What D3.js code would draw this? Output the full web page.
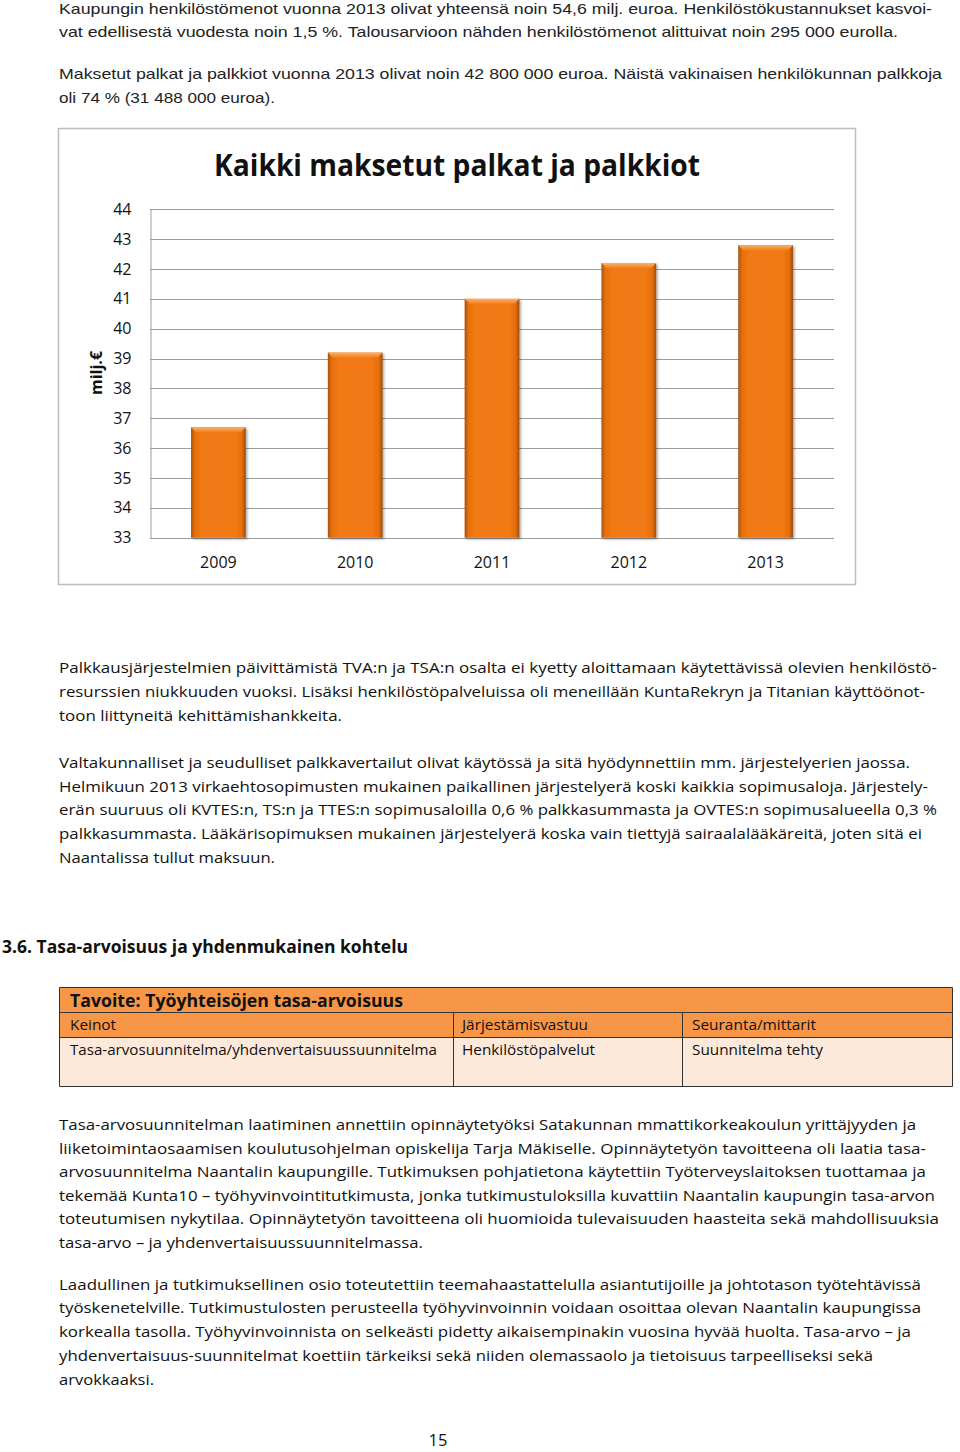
<!DOCTYPE html>
<html><head><meta charset="utf-8">
<script src="https://cdn.jsdelivr.net/npm/d3@7/dist/d3.min.js"></script>
<style>html,body{margin:0;padding:0;background:#fff}svg{display:block}</style>
</head><body>
<script>
// ---- Data ----
const years = ["2009","2010","2011","2012","2013"];
const wages = [36.7, 39.2, 41.0, 42.2, 42.8];   // milj. €
const yTicks = [33,34,35,36,37,38,39,40,41,42,43,44];
const chartTitle = "Kaikki maksetut palkat ja palkkiot";
const yLabel = "milj.€";

const introLines = [
 ["Kaupungin henkilöstömenot vuonna 2013 olivat yhteensä noin 54,6 milj. euroa. Henkilöstökustannukset kasvoi-", 14, 932],
 ["vat edellisestä vuodesta noin 1,5 %. Talousarvioon nähden henkilöstömenot alittuivat noin 295 000 eurolla.", 37, 898],
 ["Maksetut palkat ja palkkiot vuonna 2013 olivat noin 42 800 000 euroa. Näistä vakinaisen henkilökunnan palkkoja", 79, 942],
 ["oli 74 % (31 488 000 euroa).", 103, 275]
];
const bodyLines = [
 ["Palkkausjärjestelmien päivittämistä TVA:n ja TSA:n osalta ei kyetty aloittamaan käytettävissä olevien henkilöstö-", 673, 937],
 ["resurssien niukkuuden vuoksi.  Lisäksi henkilöstöpalveluissa oli meneillään KuntaRekryn ja Titanian käyttöönot-", 697, 925],
 ["toon liittyneitä kehittämishankkeita.", 721, 342],
 ["Valtakunnalliset ja seudulliset palkkavertailut olivat käytössä ja sitä hyödynnettiin mm. järjestelyerien jaossa.", 768, 910],
 ["Helmikuun 2013 virkaehtosopimusten mukainen paikallinen järjestelyerä koski kaikkia sopimusaloja. Järjestely-", 792, 928],
 ["erän suuruus oli KVTES:n, TS:n ja TTES:n sopimusaloilla 0,6 % palkkasummasta ja OVTES:n sopimusalueella 0,3 %", 815, 937],
 ["palkkasummasta. Lääkärisopimuksen mukainen järjestelyerä koska vain tiettyjä sairaalalääkäreitä, joten sitä ei", 839, 922],
 ["Naantalissa tullut maksuun.", 863, 275],
 ["Tasa-arvosuunnitelman laatiminen annettiin opinnäytetyöksi Satakunnan mmattikorkeakoulun yrittäjyyden ja", 1130, 916],
 ["liiketoimintaosaamisen koulutusohjelman opiskelija Tarja Mäkiselle.  Opinnäytetyön tavoitteena oli laatia tasa-", 1154, 926],
 ["arvosuunnitelma Naantalin kaupungille. Tutkimuksen pohjatietona käytettiin Työterveyslaitoksen tuottamaa ja", 1177, 926],
 ["tekemää Kunta10 – työhyvinvointitutkimusta, jonka tutkimustuloksilla kuvattiin Naantalin kaupungin tasa-arvon", 1201, 935],
 ["toteutumisen nykytilaa. Opinnäytetyön tavoitteena oli huomioida  tulevaisuuden haasteita sekä mahdollisuuksia", 1224, 939],
 ["tasa-arvo – ja yhdenvertaisuussuunnitelmassa.", 1248, 423],
 ["Laadullinen ja tutkimuksellinen osio toteutettiin teemahaastattelulla asiantutijoille ja johtotason työtehtävissä", 1290, 921],
 ["työskenetelville. Tutkimustulosten perusteella työhyvinvoinnin voidaan osoittaa olevan Naantalin kaupungissa", 1313, 921],
 ["korkealla tasolla. Työhyvinvoinnista on selkeästi pidetty aikaisempinakin vuosina hyvää huolta. Tasa-arvo – ja", 1337, 911],
 ["yhdenvertaisuus-suunnitelmat koettiin tärkeiksi sekä niiden olemassaolo ja tietoisuus tarpeelliseksi sekä", 1361, 873],
 ["arvokkaaksi.", 1385, 154]
];
const tableTitle = "Tavoite: Työyhteisöjen tasa-arvoisuus";
const tableHeader = ["Keinot","Järjestämisvastuu","Seuranta/mittarit"];
const tableRow = ["Tasa-arvosuunnitelma/yhdenvertaisuussuunnitelma","Henkilöstöpalvelut","Suunnitelma tehty"];
const heading = "3.6. Tasa-arvoisuus ja yhdenmukainen kohtelu";

// ---- Page ----
const W = 960, H = 1452;
const svg = d3.select("body").append("svg").attr("width", W).attr("height", H);
const bodyFont = "'Open Sans', 'Noto Sans', sans-serif";

const defs = svg.append("defs");
const g1 = defs.append("linearGradient").attr("id","barGrad").attr("x1","0").attr("x2","1").attr("y1","0").attr("y2","0");
[["0%","#a9520b"],["7%","#e66f0e"],["20%","#f27a12"],["80%","#f27a12"],["93%","#e46e0e"],["100%","#9e4c0a"]]
  .forEach(([o,c]) => g1.append("stop").attr("offset",o).attr("stop-color",c));
const g2 = defs.append("linearGradient").attr("id","topGrad").attr("x1","0").attr("x2","0").attr("y1","0").attr("y2","1");
[["0%","#fbb06a"],["100%","#f3801a"]].forEach(([o,c]) => g2.append("stop").attr("offset",o).attr("stop-color",c));
const sh = defs.append("filter").attr("id","shadow").attr("x","-20%").attr("y","-20%").attr("width","140%").attr("height","140%");
sh.append("feDropShadow").attr("dx",1.5).attr("dy",1.5).attr("stdDeviation",1.2).attr("flood-color","#000").attr("flood-opacity",0.35);

function textLine(sel, str, x, y, endX, opts = {}) {
  const t = sel.append("text").attr("x", x).attr("y", y).text(str)
    .attr("font-family", opts.font || bodyFont)
    .attr("font-size", opts.size || 15)
    .attr("font-weight", opts.weight || "normal")
    .attr("fill", opts.fill || "#111");
  if (endX) t.attr("textLength", endX - x).attr("lengthAdjust", "spacingAndGlyphs");
  return t;
}

// intro text
introLines.forEach(([s,y,e]) => textLine(svg, s, 59, y, e, {font:"'Liberation Sans', Arial, sans-serif", size:15, fill:"#222"}));

// ---- Chart ----
const frame = {x:58.5, y:128.5, w:797, h:456};
svg.append("rect").attr("x",frame.x).attr("y",frame.y).attr("width",frame.w).attr("height",frame.h)
  .attr("fill","#fff").attr("stroke","#bdbdbd").attr("stroke-width",1.5);

const x = d3.scaleBand().domain(years).range([150, 834]).paddingInner(0.6).paddingOuter(0.3);
const y = d3.scaleLinear().domain([33, 44]).range([537.7, 209.3]);

const chart = svg.append("g");
// gridlines
chart.append("g").selectAll("line").data(yTicks).join("line")
  .attr("x1",150).attr("x2",834).attr("y1",d=>Math.round(y(d))+0.5).attr("y2",d=>Math.round(y(d))+0.5)
  .attr("stroke","#9c9c9c").attr("stroke-width",1);
// y axis
const yAxis = d3.axisLeft(y).tickValues(yTicks).tickSize(0).tickPadding(19).tickFormat(d3.format("d"));
const ya = chart.append("g").attr("transform","translate(150.5,0)").call(yAxis);
ya.select(".domain").attr("stroke","#9c9c9c");
ya.selectAll("text").attr("font-family",bodyFont).attr("font-size",16).attr("fill","#111");

// x axis
const xAxis = d3.axisBottom(x).tickSize(0).tickPadding(19);
const xa = chart.append("g").attr("transform",`translate(0,${y(33)})`).call(xAxis);
xa.select(".domain").remove();
xa.selectAll("text").attr("font-family",bodyFont).attr("font-size",16).attr("fill","#111");

// bars
const bars = chart.append("g").selectAll("g").data(years.map((yr,i)=>({yr, v:wages[i]}))).join("g");
bars.append("rect")
  .attr("x", d=>x(d.yr)).attr("y", d=>y(d.v))
  .attr("width", x.bandwidth()).attr("height", d=>y(33)-y(d.v))
  .attr("fill","url(#barGrad)").attr("filter","url(#shadow)");
bars.append("path")
  .attr("d", d=>{
    const x0 = x(d.yr), x1 = x0 + x.bandwidth(), t = y(d.v), b = 5;
    return `M${x0},${t}L${x1},${t}L${x1-b},${t+b}L${x0+b},${t+b}Z`;
  })
  .attr("fill","url(#topGrad)");

// title
svg.append("text").attr("x",457).attr("y",176).attr("text-anchor","middle")
  .attr("font-family",bodyFont).attr("font-weight","bold").attr("font-size",31).attr("fill","#111")
  .attr("textLength",486).attr("lengthAdjust","spacingAndGlyphs").text(chartTitle);
// y label
svg.append("text").attr("transform","translate(102,373) rotate(-90)").attr("text-anchor","middle")
  .attr("font-family",bodyFont).attr("font-weight","bold").attr("font-size",16).attr("fill","#111").text(yLabel);

// body text
bodyLines.forEach(([s,y,e]) => textLine(svg, s, 59, y, e, {size:15}));

// heading
textLine(svg, heading, 2, 953, 408, {weight:"bold", size:17});

// ---- Table ----
const tb = svg.append("g");
tb.append("rect").attr("x",59.5).attr("y",987.5).attr("width",893).attr("height",25).attr("fill","#f79646");
tb.append("rect").attr("x",59.5).attr("y",1012.5).attr("width",893).attr("height",25).attr("fill","#f79646");
tb.append("rect").attr("x",59.5).attr("y",1037.5).attr("width",893).attr("height",49).attr("fill","#fde9d9");
[987.5,1012.5,1037.5,1086.5].forEach(yy => tb.append("line").attr("x1",59.5).attr("x2",952.5).attr("y1",yy).attr("y2",yy).attr("stroke","#333").attr("stroke-width",1));
[59.5,952.5].forEach(xx => tb.append("line").attr("x1",xx).attr("x2",xx).attr("y1",987.5).attr("y2",1086.5).attr("stroke","#333"));
[453.5,682.5].forEach(xx => tb.append("line").attr("x1",xx).attr("x2",xx).attr("y1",1012.5).attr("y2",1086.5).attr("stroke","#333"));
textLine(tb, tableTitle, 70, 1007, 403, {weight:"bold", size:17});
tableHeader.forEach((s,i)=> textLine(tb, s, [70,462,692][i], 1030, [116,588,816][i], {size:14.5}));
tableRow.forEach((s,i)=> textLine(tb, s, [70,462,692][i], 1055, [437,595,823][i], {size:14.5}));

// page number
svg.append("text").attr("x",438).attr("y",1446).attr("text-anchor","middle")
  .attr("font-family",bodyFont).attr("font-size",16.5).attr("fill","#111").text("15");
</script>
</body></html>
